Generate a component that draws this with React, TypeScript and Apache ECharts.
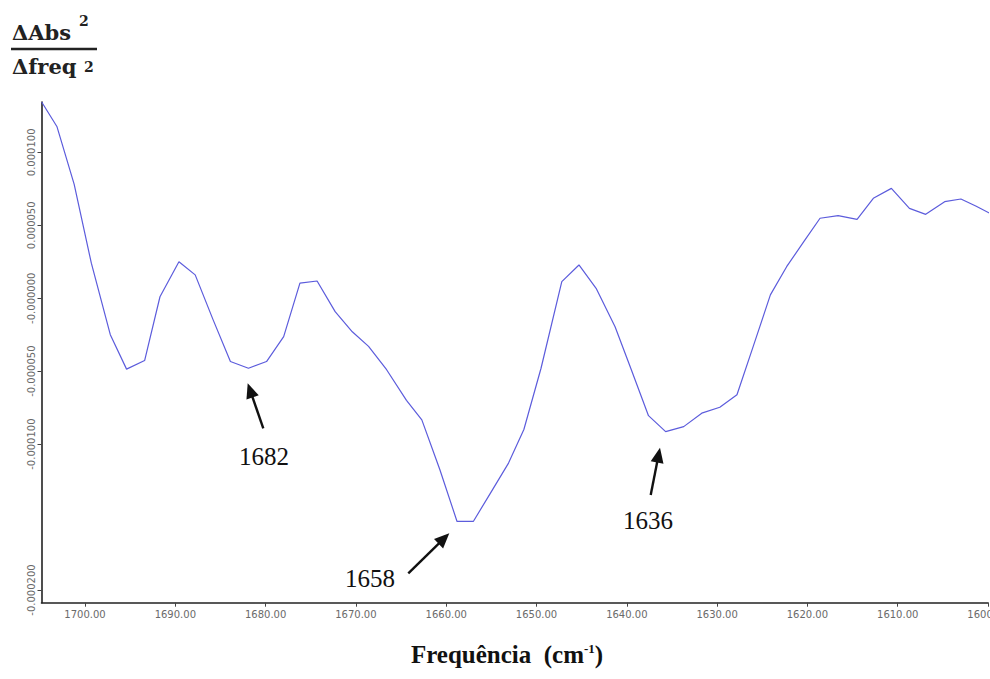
import React, { useEffect, useRef } from "react";
import * as echarts from "echarts";

// Wavenumbers (cm-1) and second-derivative values (x 1e-6)
const wavenumbers = [
  1704.8, 1703.1, 1701.2, 1699.3, 1697.2, 1695.4, 1693.4, 1691.7, 1689.6, 1687.8,
  1685.8, 1683.9, 1681.9, 1679.9, 1678.0, 1676.2, 1674.3, 1672.3, 1670.4, 1668.6,
  1666.6, 1664.4, 1662.7, 1660.7, 1658.8, 1657.0, 1655.1, 1653.1, 1651.4, 1649.5,
  1647.2, 1645.3, 1643.4, 1641.3, 1639.5, 1637.6, 1635.7, 1633.7, 1631.7, 1629.7,
  1627.8, 1626.0, 1624.1, 1622.3, 1620.4, 1618.6, 1616.6, 1614.5, 1612.7, 1610.7,
  1608.7, 1606.9, 1604.8, 1603.0, 1601.3, 1599.8,
];
const derivValuesMicro = [
  134.5, 117.5, 78, 24, -25, -48.6, -42.7, 1, 25, 16,
  -15, -43.4, -48, -43.4, -26.3, 10.3, 11.8, -9.2, -23, -33,
  -49, -70, -83.4, -117.6, -153, -153, -133.6, -113, -90, -48,
  11.4, 22.8, 6.8, -19.5, -49, -80.5, -91.4, -88, -78.8, -74.7,
  -66.2, -33, 2.3, 21.6, 38.8, 54.8, 56.6, 54.1, 68.5, 75.3,
  61.6, 57.5, 66.2, 68, 63, 58.2,
];

const xTickValues = [1700, 1690, 1680, 1670, 1660, 1650, 1640, 1630, 1620, 1610, 1600];
const yTickValues = [0.0001, 0.00005, 0, -0.00005, -0.0001, -0.0002];
const yTickLabels = ["0.000100", "0.000050", "-0.000000", "-0.000050", "-0.000100", "-0.000200"];

const peakLabels = ["1682", "1658", "1636"];

function arrow(tail: number[], tip: number[]) {
  const dx = tip[0] - tail[0];
  const dy = tip[1] - tail[1];
  const len = Math.sqrt(dx * dx + dy * dy);
  const ux = dx / len;
  const uy = dy / len;
  const headLen = 15;
  const halfW = 6.5;
  const bx = tip[0] - ux * headLen;
  const by = tip[1] - uy * headLen;
  return [
    {
      type: "line",
      shape: { x1: tail[0], y1: tail[1], x2: bx + ux * 2, y2: by + uy * 2 },
      style: { stroke: "#111", lineWidth: 2.4 },
    },
    {
      type: "polygon",
      shape: {
        points: [
          [tip[0], tip[1]],
          [bx - uy * halfW, by + ux * halfW],
          [bx + uy * halfW, by - ux * halfW],
        ],
      },
      style: { fill: "#111" },
    },
  ];
}

export default function App() {
  const ref = useRef<HTMLDivElement>(null);

  useEffect(() => {
    if (!ref.current) return;
    const chart = echarts.init(ref.current, null, { renderer: "svg" });
    const data = wavenumbers.map((w, i) => [w, derivValuesMicro[i] * 1e-6]);

    const annotFont = { fontFamily: "Liberation Serif", fontSize: 25, fill: "#111" };
    const titleFont = { fontFamily: "DejaVu Serif", fontWeight: "bold", fill: "#222" };

    chart.setOption({
      animation: false,
      backgroundColor: "#fff",
      grid: {
        left: 41.5,
        right: 2,
        top: 102,
        bottom: 76.3,
        containLabel: false,
        outerBoundsMode: "none",
      },
      xAxis: {
        type: "value",
        inverse: true,
        min: 1600,
        max: 1704.82,
        splitLine: { show: false },
        axisLine: { show: true, onZero: false, lineStyle: { color: "#222", width: 1.6 } },
        axisTick: { show: true, customValues: xTickValues, length: 4, lineStyle: { color: "#444" } },
        axisLabel: {
          customValues: xTickValues,
          formatter: (v: number) => v.toFixed(2),
          fontFamily: "DejaVu Sans",
          fontSize: 10,
          color: "#6a6a6a",
          margin: 7,
        },
      },
      yAxis: {
        type: "value",
        min: -0.0002087,
        max: 0.0001345,
        splitLine: { show: false },
        axisLine: { show: true, onZero: false, lineStyle: { color: "#222", width: 1.6 } },
        axisTick: { show: true, customValues: yTickValues, length: 4, lineStyle: { color: "#444" } },
        axisLabel: {
          customValues: yTickValues,
          rotate: 90,
          formatter: (v: number) => {
            const idx = yTickValues.findIndex((t) => Math.abs(t - v) < 1e-9);
            return idx >= 0 ? yTickLabels[idx] : "";
          },
          fontFamily: "DejaVu Sans",
          fontSize: 10,
          color: "#6a6a6a",
          margin: 5,
        },
      },
      series: [
        {
          type: "line",
          data,
          showSymbol: false,
          symbol: "none",
          clip: true,
          lineStyle: { color: "#5c5cdc", width: 1.2 },
        },
      ],
      graphic: [
        { type: "text", x: 12, y: 32, style: { ...titleFont, text: "ΔAbs", fontSize: 21, verticalAlign: "middle" } },
        { type: "text", x: 79, y: 21, style: { ...titleFont, text: "2", fontSize: 14, verticalAlign: "middle" } },
        { type: "line", shape: { x1: 11, y1: 49, x2: 97, y2: 49 }, style: { stroke: "#222", lineWidth: 2.5 } },
        { type: "text", x: 12, y: 66, style: { ...titleFont, text: "Δfreq", fontSize: 21, verticalAlign: "middle" } },
        { type: "text", x: 84, y: 67, style: { ...titleFont, text: "2", fontSize: 14, verticalAlign: "middle" } },
        ...arrow([263.3, 428.3], [247.7, 383.3]),
        ...arrow([408.3, 573.3], [449.3, 533.3]),
        ...arrow([650.7, 495], [660, 447.7]),
        { type: "text", x: 264, y: 456, style: { ...annotFont, text: peakLabels[0], align: "center", verticalAlign: "middle" } },
        { type: "text", x: 370, y: 578, style: { ...annotFont, text: peakLabels[1], align: "center", verticalAlign: "middle" } },
        { type: "text", x: 648, y: 520, style: { ...annotFont, text: peakLabels[2], align: "center", verticalAlign: "middle" } },
        {
          type: "text",
          x: 507,
          y: 654,
          style: {
            text: "{a|Frequência  (cm}{s|-1}{a|)}",
            align: "center",
            verticalAlign: "middle",
            rich: {
              a: { fontFamily: "Liberation Serif", fontWeight: "bold", fontSize: 25, fill: "#111", color: "#111" },
              s: { fontFamily: "Liberation Serif", fontWeight: "bold", fontSize: 13, fill: "#111", color: "#111", verticalAlign: "top", padding: [0, 0, 10, 0] },
            },
          },
        },
      ],
    });
    return () => chart.dispose();
  }, []);

  return (
    <div
      ref={ref}
      style={{ position: "absolute", left: 0, top: 0, width: 990, height: 679 }}
    />
  );
}
